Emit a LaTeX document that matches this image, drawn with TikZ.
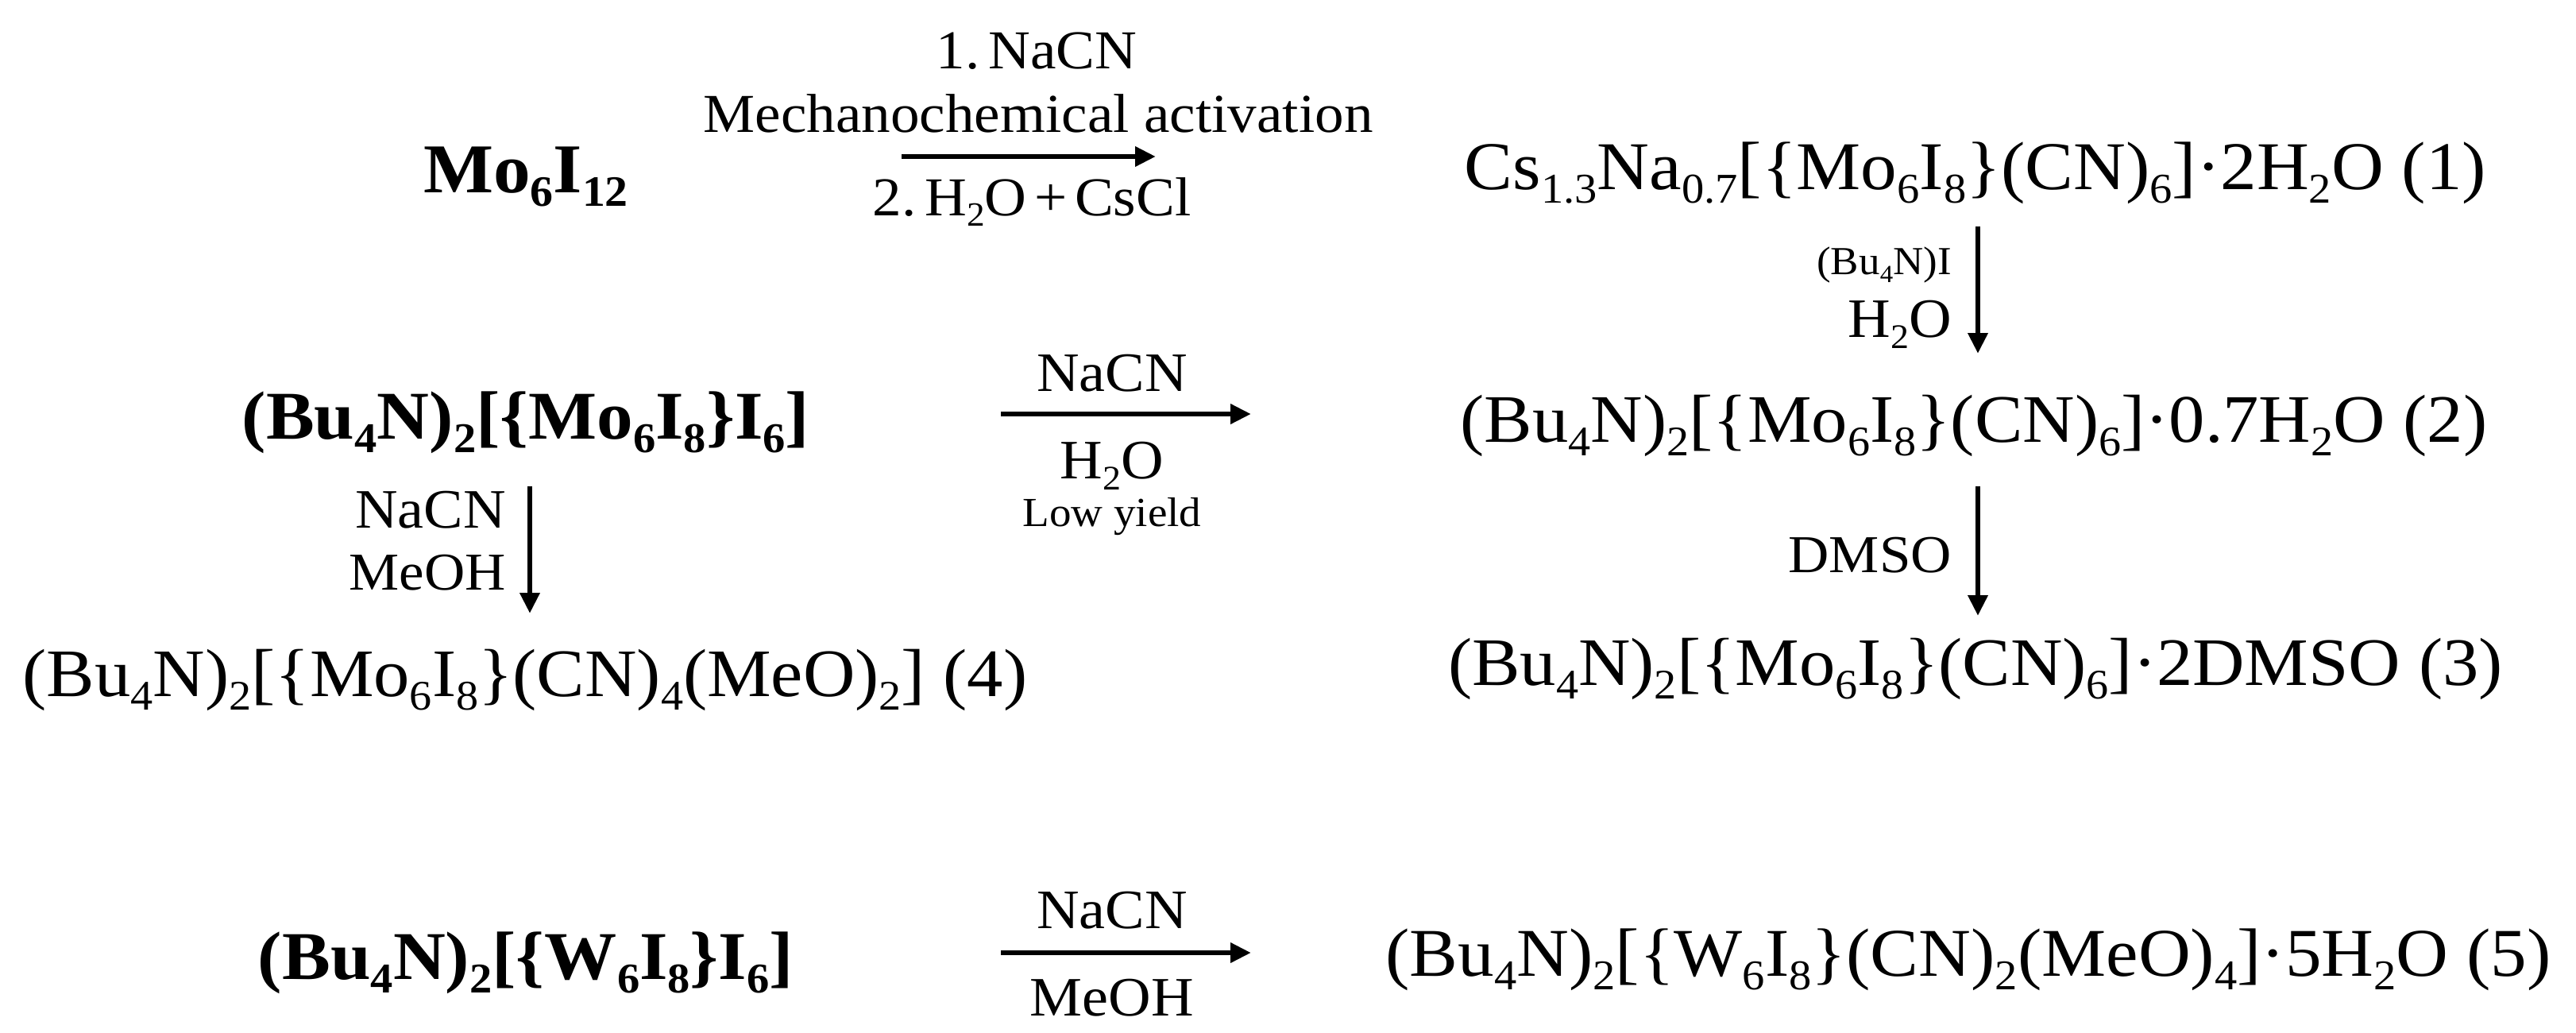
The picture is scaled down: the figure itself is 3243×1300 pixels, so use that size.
\documentclass[tikz,border=0pt]{standalone}
\usepackage{fontspec}
\setmainfont[FakeStretch=1.06]{Liberation Serif}
\usetikzlibrary{arrows.meta}
\newcommand{\dn}[1]{\raisebox{-0.2em}{\scalebox{0.62}{#1}}}
\tikzset{
 x=1pt,y=-1pt,
 big/.style={inner sep=0pt,anchor=base,font=\fontsize{86}{100}\selectfont},
 bigt/.style={inner sep=0pt,anchor=base,font=\fontsize{85.5}{100}\selectfont},
 bigb/.style={inner sep=0pt,anchor=base,font=\fontsize{86}{100}\selectfont\bfseries},
 cond/.style={inner sep=0pt,anchor=base,font=\fontsize{69}{76}\selectfont},
 mid/.style={inner sep=0pt,anchor=base,font=\fontsize{70}{76}\selectfont},
 dmso/.style={inner sep=0pt,anchor=base,font=\fontsize{67}{76}\selectfont},
 small/.style={inner sep=0pt,anchor=base,font=\fontsize{52}{60}\selectfont},
 tiny/.style={inner sep=0pt,anchor=base,font=\fontsize{50}{60}\selectfont},
 rx/.style={line width=6.5pt,-{Stealth[length=26pt,width=24pt,inset=0pt]}},
}
\begin{document}
\begin{tikzpicture}
\useasboundingbox (0,0) rectangle (3243,1300);
\node[bigb,font=\fontsize{88}{100}\selectfont\bfseries] (a) at (662,242) {Mo\dn{6}I\dn{12}};
\node[cond] (t1) at (1305,87) {1.\hspace{0.16em}NaCN};
\node[cond] (t2) at (1307,167) {Mechanochemical activation};
\node[cond] (t3) at (1299,271) {2.\hspace{0.16em}H\dn{2}O\hspace{0.14em}+\hspace{0.14em}CsCl};
\coordinate (a1s) at (1135,197); \coordinate (a1e) at (1455,197);
\draw[rx] (a1s) -- (a1e);
\node[big] (c1) at (2487,238) {Cs\dn{1.3}Na\dn{0.7}[\{Mo\dn{6}I\dn{8}\}(CN)\dn{6}]·2H\dn{2}O (1)};
\node[tiny,anchor=base east] (b1) at (2457,345) {(Bu\dn{4}N)I};
\node[mid,anchor=base east] (b2) at (2457,424) {H\dn{2}O};
\coordinate (a2s) at (2490,285); \coordinate (a2e) at (2490,445);
\draw[rx] (a2s) -- (a2e);
\node[bigb] (d) at (662,552) {(Bu\dn{4}N)\dn{2}[\{Mo\dn{6}I\dn{8}\}I\dn{6}]};
\node[mid] (n1) at (1400,492) {NaCN};
\coordinate (a3s) at (1260,521); \coordinate (a3e) at (1575,521);
\draw[rx] (a3s) -- (a3e);
\node[mid] (n2) at (1400,602) {H\dn{2}O};
\node[small] (n3) at (1400,662) {Low yield};
\node[bigt] (c2) at (2485,556) {(Bu\dn{4}N)\dn{2}[\{Mo\dn{6}I\dn{8}\}(CN)\dn{6}]·0.7H\dn{2}O (2)};
\node[dmso,anchor=base east] (e1) at (2457,720) {DMSO};
\coordinate (a4s) at (2490,612); \coordinate (a4e) at (2490,775);
\draw[rx] (a4s) -- (a4e);
\node[bigt] (c3) at (2487,862) {(Bu\dn{4}N)\dn{2}[\{Mo\dn{6}I\dn{8}\}(CN)\dn{6}]·2DMSO (3)};
\node[mid,anchor=base east] (f1) at (637,664) {NaCN};
\node[dmso,anchor=base east] (f2) at (637,742) {MeOH};
\coordinate (a5s) at (667,612); \coordinate (a5e) at (667,772);
\draw[rx] (a5s) -- (a5e);
\node[bigt] (c4) at (661,876) {(Bu\dn{4}N)\dn{2}[\{Mo\dn{6}I\dn{8}\}(CN)\dn{4}(MeO)\dn{2}] (4)};
\node[bigb] (g) at (662,1232) {(Bu\dn{4}N)\dn{2}[\{W\dn{6}I\dn{8}\}I\dn{6}]};
\node[mid] (h1) at (1400,1168) {NaCN};
\coordinate (a6s) at (1260,1199); \coordinate (a6e) at (1575,1199);
\draw[rx] (a6s) -- (a6e);
\node[mid] (h2) at (1400,1278) {MeOH};
\node[big] (c5) at (2478,1228) {(Bu\dn{4}N)\dn{2}[\{W\dn{6}I\dn{8}\}(CN)\dn{2}(MeO)\dn{4}]·5H\dn{2}O (5)};
\end{tikzpicture}
\end{document}
